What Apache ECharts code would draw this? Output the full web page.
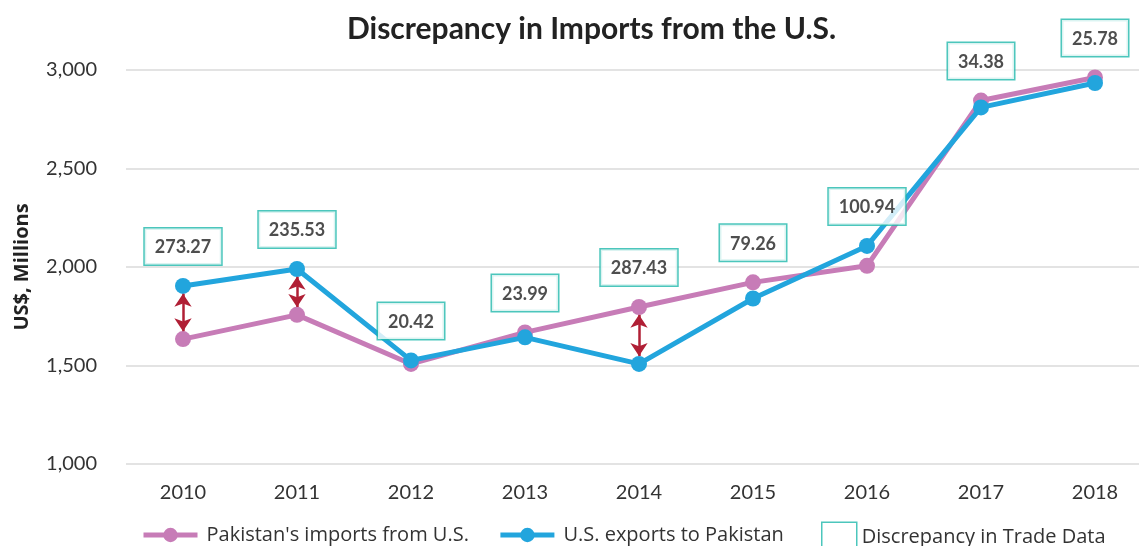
<!DOCTYPE html>
<html><head><meta charset="utf-8">
<script src="https://cdn.jsdelivr.net/npm/echarts@6/dist/echarts.min.js"></script>
<style>html,body{margin:0;padding:0;background:#fff}#c{width:1139px;height:546px}</style>
</head><body><div id="c"></div>
<script>
const years = ['2010','2011','2012','2013','2014','2015','2016','2017','2018'];
const pakImports = [1634, 1757, 1508, 1668, 1797, 1922, 2006, 2845, 2962];
const usExports  = [1904, 1990, 1526, 1643, 1508, 1840, 2107, 2810, 2934];
const discrepancy = ['273.27','235.53','20.42','23.99','287.43','79.26','100.94','34.38','25.78'];
const yTicks = [1000, 1500, 2000, 2500, 3000];

const PINK = '#c77cb7', BLUE = '#22a5dd', TEAL = '#1fb8ab', RED = '#b01f35';
const FONT = 'Lato';
const gap = 40; // arrow gap from marker centres (value units)

const labelPos = years.map((y, i) => Math.max(pakImports[i], usExports[i]));
const arrowData = [];
discrepancy.forEach((d, i) => {
  if (parseFloat(d) > 200) {
    const lo = Math.min(pakImports[i], usExports[i]) + gap;
    const hi = Math.max(pakImports[i], usExports[i]) - gap;
    arrowData.push([{coord: [i, lo]}, {coord: [i, hi]}]);
  }
});

const chart = echarts.init(document.getElementById('c'));
chart.setOption({
  animation: false,
  textStyle: {fontFamily: FONT},
  title: {
    text: 'Discrepancy in Imports from the U.S.',
    left: 342, top: 9,
    textStyle: {fontFamily: FONT, fontSize: 30, fontWeight: 'bold', color: '#222'}
  },
  grid: {left: 126, right: -13, top: 70, bottom: 82, containLabel: false, outerBoundsMode: 'none'},
  legend: [{
    bottom: -4, left: 136, itemWidth: 54, itemHeight: 18, itemGap: 29,
    lineStyle: {width: 5},
    textStyle: {fontFamily: 'Open Sans', fontSize: 20, color: '#333', padding: [0, 0, 0, 4]},
    data: [
      {name: "Pakistan's imports from U.S.", lineStyle: {width: 5, color: PINK}},
      {name: 'U.S. exports to Pakistan', lineStyle: {width: 5, color: BLUE}}
    ]
  }, {
    bottom: -12, left: 816, itemWidth: 35, itemHeight: 30,
    textStyle: {fontFamily: 'Open Sans', fontSize: 20, color: '#333', padding: [0, 0, 0, 0]},
    data: [{name: 'Discrepancy in Trade Data', icon: 'rect',
      itemStyle: {color: '#fff', borderColor: TEAL, borderWidth: 1.5}}]
  }],
  xAxis: {
    type: 'category', data: years,
    axisLine: {show: false}, axisTick: {show: false},
    axisLabel: {fontFamily: FONT, fontSize: 20, color: '#333', margin: 19}
  },
  yAxis: {
    type: 'value', min: yTicks[0], max: yTicks[yTicks.length - 1], interval: 500,
    name: 'US$, Millions', nameLocation: 'middle', nameGap: 94, nameRotate: 90,
    nameTextStyle: {fontFamily: 'Open Sans', fontSize: 20, fontWeight: 'bold', color: '#222'},
    axisLabel: {fontFamily: FONT, fontSize: 20, color: '#333', margin: 29,
      formatter: v => v.toLocaleString('en-US')},
    splitLine: {lineStyle: {color: '#dadada', width: 1.5}}
  },
  series: [{
    name: "Pakistan's imports from U.S.", type: 'line', data: pakImports,
    symbol: 'circle', symbolSize: 16, z: 2,
    lineStyle: {color: PINK, width: 5}, itemStyle: {color: PINK}
  }, {
    name: 'U.S. exports to Pakistan', type: 'line', data: usExports,
    symbol: 'circle', symbolSize: 16, z: 3,
    lineStyle: {color: BLUE, width: 5}, itemStyle: {color: BLUE},
    markLine: {
      silent: true, symbol: ['arrow', 'arrow'], symbolSize: [13, 13],
      label: {show: false},
      lineStyle: {color: RED, width: 2.5, type: 'solid'},
      data: arrowData
    }
  }, {
    name: 'Discrepancy in Trade Data', type: 'scatter', data: labelPos,
    symbolSize: 1, z: 5,
    itemStyle: {color: 'rgba(0,0,0,0)'},
    label: {
      show: true, position: 'top', distance: 21,
      formatter: p => discrepancy[p.dataIndex],
      fontFamily: FONT, fontSize: 18, fontWeight: 'bold', color: '#222',
      backgroundColor: '#fff', borderColor: TEAL, borderWidth: 1.5,
      padding: [10, 10, 8, 10]
    }
  }]
});
</script></body></html>
